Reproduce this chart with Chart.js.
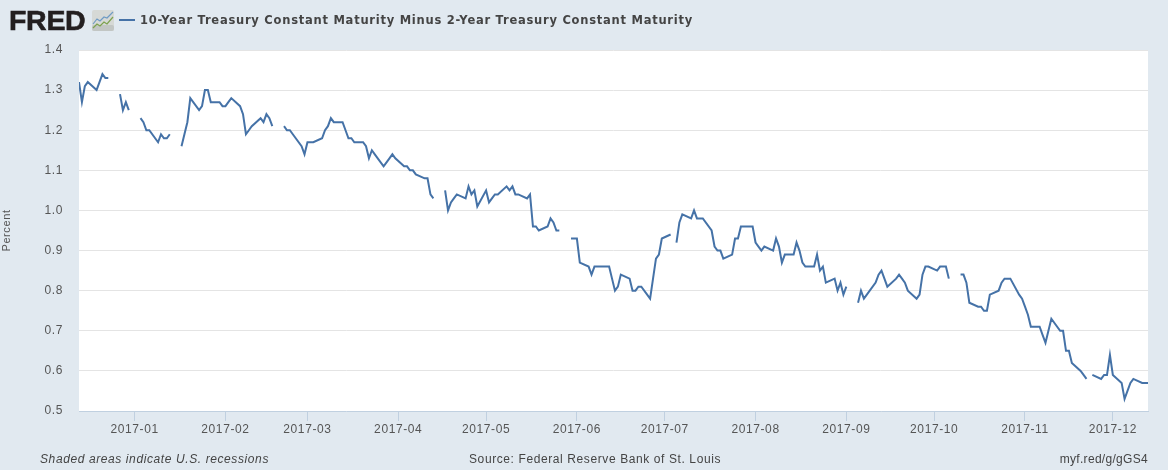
<!DOCTYPE html>
<html>
<head>
<meta charset="utf-8">
<title>10-Year Treasury Constant Maturity Minus 2-Year Treasury Constant Maturity</title>
<script src="https://cdn.jsdelivr.net/npm/chart.js"></script>
<style>
  html, body { margin: 0; padding: 0; background: #e1e9f0; }
  #wrap { position: relative; width: 1168px; height: 470px; overflow: hidden; }
  canvas { position: absolute; left: 0; top: 0; }
  .txt { position: absolute; white-space: nowrap; }
  #logo { left: 9px; top: 4px; font: bold 28.5px "Liberation Sans", sans-serif; color: #231f20; letter-spacing: -0.3px; -webkit-text-stroke: 0.6px #231f20; }
  #icon { position: absolute; left: 92px; top: 10px; }
  #key { position: absolute; left: 119px; top: 19px; width: 16px; height: 2px; background: #4572a7; }
  #title { left: 140px; top: 13px; font: bold 11.5px "DejaVu Sans", sans-serif; color: #444; letter-spacing: 0.75px; }
  .foot { top: 452px; font: 12px "Liberation Sans", sans-serif; color: #444; letter-spacing: 0.6px; }
</style>
</head>
<body>
<div id="wrap">
  <canvas id="spreadChart" width="1168" height="470"></canvas>
  <div id="logo" class="txt">FRED</div>
  <svg id="icon" width="22" height="21" viewBox="0 0 22 21">
    <rect x="0" y="0" width="22" height="21" rx="2" fill="#d6d9d6"/>
    <rect x="0" y="15" width="22" height="6" rx="2" fill="#c2c6c4"/>
    <polyline points="1,14 5,9 8,11 12,7 15,8 21,2" fill="none" stroke="#6f9bc4" stroke-width="1.2"/>
    <polyline points="1,18 5,14 8,16 12,12 15,14 21,7" fill="none" stroke="#7da24f" stroke-width="1.2"/>
  </svg>
  <div id="key"></div>
  <div id="title" class="txt">10-Year Treasury Constant Maturity Minus 2-Year Treasury Constant Maturity</div>
  <div class="txt foot" style="left:40px;font-style:italic">Shaded areas indicate U.S. recessions</div>
  <div class="txt foot" style="left:469px">Source: Federal Reserve Bank of St. Louis</div>
  <div class="txt foot" style="right:20px;letter-spacing:0.3px">myf.red/g/gGS4</div>
</div>
<script>
const startDate = '2016-12-13';
const endDate = '2017-12-13';

const tickLabels = ['2017-01', '2017-02', '2017-03', '2017-04', '2017-05', '2017-06', '2017-07', '2017-08', '2017-09', '2017-10', '2017-11', '2017-12'];
const yTicks = [0.5, 0.6, 0.7, 0.8, 0.9, 1.0, 1.1, 1.2, 1.3, 1.4];

// trading days, holidays stay in with a null so the line breaks there
const dates = [
  '2016-12-13','2016-12-14','2016-12-15','2016-12-16','2016-12-19','2016-12-20','2016-12-21','2016-12-22','2016-12-23','2016-12-26','2016-12-27','2016-12-28','2016-12-29','2016-12-30',
  '2017-01-02','2017-01-03','2017-01-04','2017-01-05','2017-01-06','2017-01-09','2017-01-10','2017-01-11','2017-01-12','2017-01-13','2017-01-16','2017-01-17','2017-01-18','2017-01-19','2017-01-20','2017-01-23','2017-01-24','2017-01-25','2017-01-26','2017-01-27','2017-01-30','2017-01-31',
  '2017-02-01','2017-02-02','2017-02-03','2017-02-06','2017-02-07','2017-02-08','2017-02-09','2017-02-10','2017-02-13','2017-02-14','2017-02-15','2017-02-16','2017-02-17','2017-02-20','2017-02-21','2017-02-22','2017-02-23','2017-02-24','2017-02-27','2017-02-28',
  '2017-03-01','2017-03-02','2017-03-03','2017-03-06','2017-03-07','2017-03-08','2017-03-09','2017-03-10','2017-03-13','2017-03-14','2017-03-15','2017-03-16','2017-03-17','2017-03-20','2017-03-21','2017-03-22','2017-03-23','2017-03-24','2017-03-27','2017-03-28','2017-03-29','2017-03-30','2017-03-31',
  '2017-04-03','2017-04-04','2017-04-05','2017-04-06','2017-04-07','2017-04-10','2017-04-11','2017-04-12','2017-04-13','2017-04-14','2017-04-17','2017-04-18','2017-04-19','2017-04-20','2017-04-21','2017-04-24','2017-04-25','2017-04-26','2017-04-27','2017-04-28',
  '2017-05-01','2017-05-02','2017-05-03','2017-05-04','2017-05-05','2017-05-08','2017-05-09','2017-05-10','2017-05-11','2017-05-12','2017-05-15','2017-05-16','2017-05-17','2017-05-18','2017-05-19','2017-05-22','2017-05-23','2017-05-24','2017-05-25','2017-05-26','2017-05-29','2017-05-30','2017-05-31',
  '2017-06-01','2017-06-02','2017-06-05','2017-06-06','2017-06-07','2017-06-08','2017-06-09','2017-06-12','2017-06-13','2017-06-14','2017-06-15','2017-06-16','2017-06-19','2017-06-20','2017-06-21','2017-06-22','2017-06-23','2017-06-26','2017-06-27','2017-06-28','2017-06-29','2017-06-30',
  '2017-07-03','2017-07-04','2017-07-05','2017-07-06','2017-07-07','2017-07-10','2017-07-11','2017-07-12','2017-07-13','2017-07-14','2017-07-17','2017-07-18','2017-07-19','2017-07-20','2017-07-21','2017-07-24','2017-07-25','2017-07-26','2017-07-27','2017-07-28','2017-07-31',
  '2017-08-01','2017-08-02','2017-08-03','2017-08-04','2017-08-07','2017-08-08','2017-08-09','2017-08-10','2017-08-11','2017-08-14','2017-08-15','2017-08-16','2017-08-17','2017-08-18','2017-08-21','2017-08-22','2017-08-23','2017-08-24','2017-08-25','2017-08-28','2017-08-29','2017-08-30','2017-08-31',
  '2017-09-01','2017-09-04','2017-09-05','2017-09-06','2017-09-07','2017-09-08','2017-09-11','2017-09-12','2017-09-13','2017-09-14','2017-09-15','2017-09-18','2017-09-19','2017-09-20','2017-09-21','2017-09-22','2017-09-25','2017-09-26','2017-09-27','2017-09-28','2017-09-29',
  '2017-10-02','2017-10-03','2017-10-04','2017-10-05','2017-10-06','2017-10-09','2017-10-10','2017-10-11','2017-10-12','2017-10-13','2017-10-16','2017-10-17','2017-10-18','2017-10-19','2017-10-20','2017-10-23','2017-10-24','2017-10-25','2017-10-26','2017-10-27','2017-10-30','2017-10-31',
  '2017-11-01','2017-11-02','2017-11-03','2017-11-06','2017-11-07','2017-11-08','2017-11-09','2017-11-10','2017-11-13','2017-11-14','2017-11-15','2017-11-16','2017-11-17','2017-11-20','2017-11-21','2017-11-22','2017-11-23','2017-11-24','2017-11-27','2017-11-28','2017-11-29','2017-11-30',
  '2017-12-01','2017-12-04','2017-12-05','2017-12-06','2017-12-07','2017-12-08','2017-12-11','2017-12-12','2017-12-13'
];

const spread = [
  1.32,1.27,1.31,1.32,1.30,1.32,1.34,1.33,1.33,null,1.29,1.25,1.27,1.25,
  null,1.23,1.22,1.20,1.20,1.17,1.19,1.18,1.18,1.19,null,1.16,1.19,1.22,1.28,1.25,1.26,1.30,1.30,1.27,1.27,1.26,
  1.26,1.27,1.28,1.26,1.24,1.19,1.20,1.21,1.23,1.22,1.24,1.23,1.21,null,1.21,1.20,1.20,1.19,1.16,1.14,
  1.17,1.17,1.17,1.18,1.20,1.21,1.23,1.22,1.22,1.20,1.18,1.18,1.17,1.17,1.16,1.13,1.15,1.14,1.11,1.12,1.13,1.14,1.13,
  1.11,1.11,1.10,1.10,1.09,1.08,1.08,1.04,1.03,null,1.05,1.00,1.02,1.03,1.04,1.03,1.06,1.04,1.05,1.01,
  1.05,1.02,1.03,1.04,1.04,1.06,1.05,1.06,1.04,1.04,1.03,1.04,0.96,0.96,0.95,0.96,0.98,0.97,0.95,0.95,null,0.93,0.93,
  0.93,0.87,0.86,0.84,0.86,0.86,0.86,0.86,0.83,0.80,0.81,0.84,0.83,0.80,0.80,0.81,0.81,0.78,0.83,0.88,0.89,0.93,
  0.94,null,0.92,0.97,0.99,0.98,1.00,0.98,0.98,0.98,0.95,0.91,0.90,0.90,0.88,0.89,0.93,0.93,0.96,0.96,0.96,
  0.92,0.91,0.90,0.91,0.90,0.93,0.91,0.87,0.89,0.89,0.92,0.90,0.87,0.86,0.86,0.89,0.85,0.86,0.82,0.83,0.80,0.82,0.79,
  0.81,null,0.77,0.80,0.78,0.79,0.82,0.84,0.85,0.83,0.81,0.83,0.84,0.83,0.82,0.80,0.78,0.79,0.84,0.86,0.86,
  0.85,0.86,0.86,0.86,0.83,null,0.84,0.84,0.82,0.77,0.76,0.76,0.75,0.75,0.79,0.80,0.82,0.83,0.83,0.83,0.79,0.78,
  0.76,0.74,0.71,0.71,0.69,0.67,0.70,0.73,0.70,0.70,0.65,0.65,0.62,0.60,0.59,0.58,null,0.59,0.58,0.59,0.59,0.64,
  0.59,0.57,0.53,0.55,0.57,0.58,0.57,0.57,0.57
];

const dayOf = s => (Date.parse(s) - Date.parse(startDate)) / 86400000;
const lineData = dates.map((d, i) => ({ x: dayOf(d), y: spread[i] }));
const monthTicks = tickLabels.map(l => dayOf(l + '-01'));

const plotBackground = {
  id: 'plotBackground',
  beforeDraw(chart) {
    const { ctx, chartArea: a } = chart;
    ctx.fillStyle = '#ffffff';
    ctx.fillRect(a.left, a.top, a.right - a.left, a.bottom - a.top);
    ctx.letterSpacing = '0.6px'; // FRED axis text is a bit spaced out
  }
};

new Chart(document.getElementById('spreadChart').getContext('2d'), {
  type: 'line',
  data: {
    datasets: [{
      label: '10-Year Treasury Constant Maturity Minus 2-Year Treasury Constant Maturity',
      data: lineData,
      borderColor: '#4572a7',
      borderWidth: 2,
      pointRadius: 0,
      tension: 0,
      spanGaps: false
    }]
  },
  options: {
    responsive: false,
    animation: false,
    layout: { padding: { top: 50, right: 20, left: 0, bottom: 0 } },
    plugins: { legend: { display: false }, tooltip: { enabled: false } },
    scales: {
      x: {
        type: 'linear',
        min: 0,
        max: dayOf(endDate),
        afterFit: s => { s.height = 59; },
        afterBuildTicks: s => { s.ticks = monthTicks.map(v => ({ value: v })); },
        grid: { drawOnChartArea: false, drawTicks: true, tickLength: 10, tickColor: '#c0d0e0' },
        border: { color: '#c0d0e0', width: 1 },
        ticks: {
          autoSkip: false,
          maxRotation: 0,
          padding: 1,
          color: '#555555',
          font: { family: 'Liberation Sans', size: 12 },
          callback: v => tickLabels[monthTicks.indexOf(v)]
        }
      },
      y: {
        min: 0.5,
        max: 1.4,
        afterFit: s => { s.width = 79; },
        afterBuildTicks: s => { s.ticks = yTicks.map(v => ({ value: v })); },
        grid: { color: '#e4e4e4', drawTicks: false },
        border: { display: false },
        title: {
          display: true,
          text: 'Percent',
          color: '#555555',
          font: { family: 'Liberation Sans', size: 11 },
          padding: { top: 0, bottom: 0 }
        },
        ticks: {
          padding: 16,
          color: '#555555',
          font: { family: 'Liberation Sans', size: 12 },
          callback: v => v.toFixed(1)
        }
      }
    }
  },
  plugins: [plotBackground]
});
</script>
</body>
</html>
